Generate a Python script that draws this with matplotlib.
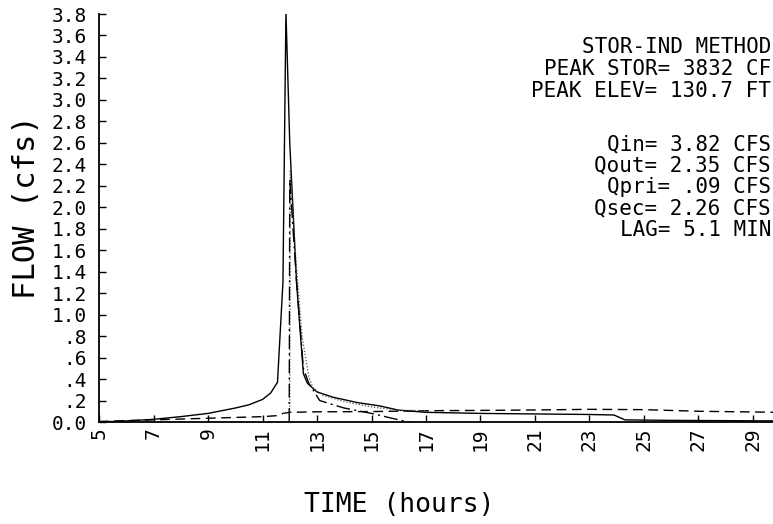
import matplotlib
matplotlib.use("Agg")
import matplotlib.pyplot as plt

# ---- data (hours, cfs) ----
qin_t = [5, 6, 7, 8, 9, 10, 10.5, 11, 11.3, 11.55, 11.75, 11.86, 12.0, 12.25, 12.5, 12.65,
         13.0, 13.6, 14.5, 15.3, 16.0, 17.0, 19.0, 21.0, 23.0, 23.9, 24.3, 26.0, 30.0]
qin_v = [0.0, 0.01, 0.025, 0.05, 0.08, 0.13, 0.16, 0.21, 0.27, 0.37, 1.3, 3.82, 2.6, 1.3, 0.45, 0.36,
         0.28, 0.23, 0.18, 0.15, 0.11, 0.09, 0.08, 0.075, 0.07, 0.065, 0.02, 0.015, 0.01]

qpri_t = [5, 7, 9, 11, 11.6, 11.75, 12.0, 13, 15, 17, 19, 21, 23, 25, 27, 30]
qpri_v = [0.005, 0.02, 0.035, 0.05, 0.06, 0.08, 0.09, 0.095, 0.097, 0.105, 0.108, 0.112, 0.118, 0.115, 0.1, 0.09]

qout_t = [11.75, 12.0, 12.02, 12.2, 12.45, 12.7, 12.85, 13.2, 14.0, 15.0, 16.0, 17.0]
qout_v = [0.08, 0.09, 2.35, 1.6, 0.8, 0.42, 0.32, 0.25, 0.19, 0.14, 0.11, 0.105]

qsec_t = [11.98, 12.0, 12.25, 12.5, 12.7, 13.1, 13.6, 14.0, 15.0, 16.0, 16.4]
qsec_v = [0.0, 2.26, 1.3, 0.5, 0.36, 0.2, 0.16, 0.13, 0.08, 0.02, 0.0]

x_ticks = list(range(5, 30, 2))
y_ticks = [0.0, 0.2, 0.4, 0.6, 0.8, 1.0, 1.2, 1.4, 1.6, 1.8, 2.0, 2.2, 2.4, 2.6, 2.8, 3.0,
           3.2, 3.4, 3.6, 3.8]
y_tick_labels = ["0.0", ".2", ".4", ".6", ".8", "1.0", "1.2", "1.4", "1.6", "1.8", "2.0",
                 "2.2", "2.4", "2.6", "2.8", "3.0", "3.2", "3.4", "3.6", "3.8"]

info_top = ["STOR-IND METHOD", "PEAK STOR= 3832 CF", "PEAK ELEV= 130.7 FT"]
info_bottom = ["Qin= 3.82 CFS", "Qout= 2.35 CFS", "Qpri= .09 CFS", "Qsec= 2.26 CFS", "LAG= 5.1 MIN"]

FONT = "DejaVu Sans Mono"
FS_TICK = 14
FS_INFO = 15

W, H = 773, 524
fig = plt.figure(figsize=(W / 100, H / 100), dpi=100)
left_px, bottom_px, top_px = 99, 422, 14
x0, x1 = 5, 30
px_per_hr = 27.25
ax = fig.add_axes([left_px / W, (H - bottom_px) / H,
                   (x1 - x0) * px_per_hr / W, (bottom_px - top_px) / H])
ax.set_xlim(x0, x1)
ax.set_ylim(0, 3.8)

lw = 1.0
ax.plot(qin_t, qin_v, color="black", lw=lw, solid_joinstyle="miter")
ax.plot(qpri_t, qpri_v, color="black", lw=lw, dashes=(7, 4))
ax.plot(qout_t, qout_v, color="#555555", lw=0.9, linestyle=(0, (1, 1.5)))
ax.plot(qsec_t, qsec_v, color="black", lw=lw, dashes=(10, 3, 1.5, 3))

for s in ["top", "right"]:
    ax.spines[s].set_visible(False)
for s in ["left", "bottom"]:
    ax.spines[s].set_linewidth(1.3)

ax.set_xticks(x_ticks)
ax.set_xticklabels([str(t) for t in x_ticks], rotation=90, fontsize=FS_TICK, family=FONT,
                   va="top", ha="center")
ax.set_yticks(y_ticks)
ax.set_yticklabels(y_tick_labels, fontsize=FS_TICK, family=FONT)
ax.tick_params(axis="both", direction="in", length=5, width=1.0)
ax.tick_params(axis="x", pad=4)
ax.tick_params(axis="y", pad=9)

fig.text(27 / W, 1 - 207 / H, "FLOW (cfs)", rotation=90, ha="center", va="center",
         fontsize=22, family=FONT)
fig.text(399 / W, 1 - 505 / H, "TIME (hours)", ha="center", va="center",
         fontsize=19, family=FONT)

right_px = 771
for i, s in enumerate(info_top):
    fig.text(right_px / W, 1 - (47 + i * 21.8) / H, s, ha="right", va="center",
             fontsize=FS_INFO, family=FONT)
for i, s in enumerate(info_bottom):
    fig.text(right_px / W, 1 - (144 + i * 21.6) / H, s, ha="right", va="center",
             fontsize=FS_INFO, family=FONT)

fig.savefig("out.png", dpi=100)
